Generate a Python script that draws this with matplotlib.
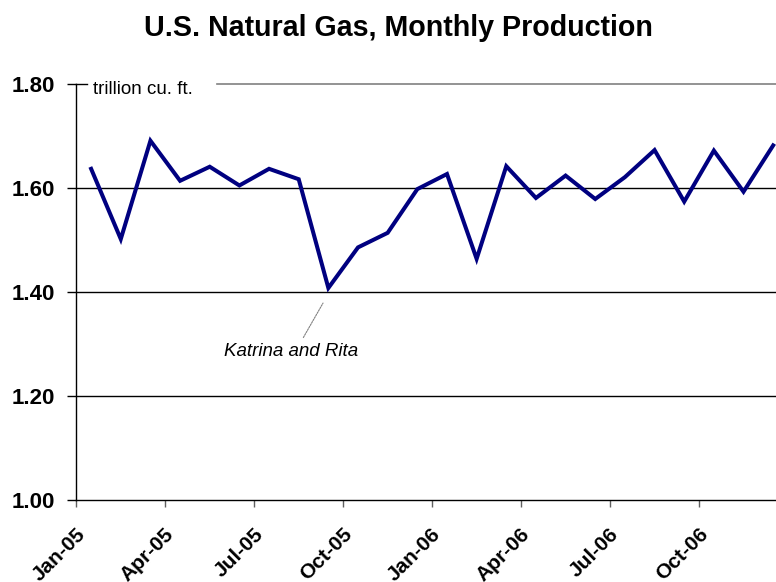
import matplotlib
matplotlib.use("Agg")
import matplotlib.pyplot as plt
import matplotlib.transforms as mtransforms

plt.rcParams['font.family'] = ['Liberation Sans', 'DejaVu Sans']

months = ["Jan-05", "Feb-05", "Mar-05", "Apr-05", "May-05", "Jun-05",
          "Jul-05", "Aug-05", "Sep-05", "Oct-05", "Nov-05", "Dec-05",
          "Jan-06", "Feb-06", "Mar-06", "Apr-06", "May-06", "Jun-06",
          "Jul-06", "Aug-06", "Sep-06", "Oct-06", "Nov-06", "Dec-06"]
production = [1.637, 1.502, 1.691, 1.614, 1.641, 1.605,
              1.637, 1.617, 1.408, 1.486, 1.514, 1.598,
              1.627, 1.464, 1.642, 1.581, 1.624, 1.579,
              1.621, 1.673, 1.574, 1.672, 1.593, 1.682]
yticks = [1.00, 1.20, 1.40, 1.60, 1.80]
title = "U.S. Natural Gas, Monthly Production"
unit_label = "trillion cu. ft."
event_label = "Katrina and Rita"
event_index = 8

W, H = 776, 582
fig = plt.figure(figsize=(W / 100, H / 100), dpi=100)
left_px, right_px, top_px, bottom_px = 76.3, 788.0, 84.0, 500.3
ax = fig.add_axes([left_px / W, 1 - bottom_px / H,
                   (right_px - left_px) / W, (bottom_px - top_px) / H])

x = list(range(len(months)))
ax.plot(x, production, color="#000080", lw=2.9, solid_joinstyle="miter", zorder=4, clip_on=False)

ax.set_xlim(-0.5, len(months) - 0.5)
ax.set_ylim(yticks[0], yticks[-1])

# y axis
ax.set_yticks(yticks)
ax.set_yticklabels([f"{v:.2f}" for v in yticks], fontsize=16, fontweight="bold")
ax.tick_params(axis="y", length=6.3, width=1, color="black", pad=9)
for v in yticks[1:-1]:
    ax.axhline(v, color="black", lw=1.0, zorder=1)

# top border with gap for unit label
ax.spines["top"].set_visible(False)
ax.spines["right"].set_visible(False)
span = right_px - left_px
ax.axhline(yticks[-1], xmin=(217 - left_px) / span, xmax=1,
           color="#808080", lw=1.2, zorder=1, clip_on=False)
ax.axhline(yticks[-1], xmin=0, xmax=(87 - left_px) / span,
           color="black", lw=1.0, zorder=1, clip_on=False)
ax.text((93 - left_px) / span, yticks[-1] - 0.01, unit_label,
        transform=mtransforms.blended_transform_factory(ax.transAxes, ax.transData),
        fontsize=13.5, ha="left", va="center", zorder=5)

ax.spines["left"].set_color("black")
ax.spines["left"].set_linewidth(1.0)
ax.spines["bottom"].set_color("black")
ax.spines["bottom"].set_linewidth(1.0)

# x axis: tick marks between categories, labels every 3rd category
ax.set_xticks([i - 0.5 for i in range(0, len(months), 3)], minor=True)
ax.tick_params(axis="x", which="minor", length=5.3, width=1, color="#606060")
ax.set_xticks(list(range(0, len(months), 3)))
ax.set_xticklabels(months[::3], fontsize=15, fontweight="bold", rotation=45,
                   ha="right", va="center", rotation_mode="anchor")
ax.tick_params(axis="x", which="major", length=0, pad=22)
offset = mtransforms.ScaledTranslation(-9 / 100, 0, fig.dpi_scale_trans)
for lbl in ax.get_xticklabels():
    lbl.set_transform(lbl.get_transform() + offset)

# annotation
ax.annotate(event_label, xy=(event_index - 0.18, production[event_index] - 0.029),
            xytext=(6.74, 1.2865), textcoords="data",
            fontsize=13.5, fontstyle="italic", ha="center", va="center",
            arrowprops=dict(arrowstyle="-", color="#808080", lw=0.8, ls=(0, (1.5, 1)),
                            relpos=(0.57, 1.0), shrinkA=2, shrinkB=0))

fig.text(398.5 / W, 1 - 28 / H, title, fontsize=20.6, fontweight="bold",
         ha="center", va="center")

fig.savefig("out.png", dpi=100)
